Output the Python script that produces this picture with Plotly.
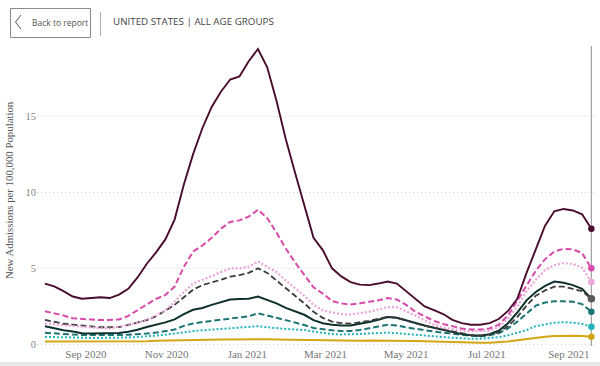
import pandas as pd
import plotly.graph_objects as go

# ---- data (weekly) ----
dates = pd.date_range("2020-08-01", periods=60, freq="7D")

maroon = [4.0, 3.82, 3.5, 3.15, 3.0, 3.05, 3.1, 3.05, 3.27, 3.65,
          4.4, 5.3, 6.05, 6.9, 8.2, 10.5, 12.5, 14.2, 15.6, 16.6,
          17.4, 17.6, 18.6, 19.4, 18.2, 16.0, 13.5, 11.3, 9.2, 7.0,
          6.2, 5.0, 4.47, 4.1, 3.93, 3.9, 4.0, 4.13, 4.0, 3.5,
          2.95, 2.5, 2.25, 2.0, 1.62, 1.4, 1.3, 1.3, 1.4, 1.67,
          2.2, 3.0, 4.7, 6.3, 7.8, 8.75, 8.9, 8.8, 8.55, 7.6]
magenta = [2.18, 2.05, 1.9, 1.72, 1.66, 1.64, 1.6, 1.6, 1.64, 1.88,
           2.25, 2.65, 3.0, 3.25, 3.8, 5.1, 6.1, 6.5, 7.0, 7.6,
           8.05, 8.15, 8.4, 8.85, 8.3, 7.35, 6.3, 5.4, 4.6, 3.75,
           3.35, 2.85, 2.7, 2.62, 2.7, 2.78, 2.9, 3.05, 2.95, 2.6,
           2.15, 1.85, 1.55, 1.35, 1.2, 1.05, 0.98, 0.98, 1.05, 1.3,
           1.9, 2.9, 3.9, 4.85, 5.6, 6.1, 6.28, 6.25, 6.0, 5.0]
pink = [1.37, 1.32, 1.25, 1.2, 1.14, 1.09, 1.07, 1.05, 1.15, 1.3,
        1.42, 1.62, 1.9, 2.25, 2.8, 3.45, 4.0, 4.25, 4.45, 4.7,
        5.0, 5.0, 5.1, 5.45, 5.1, 4.75, 4.2, 3.7, 3.2, 2.6,
        2.25, 2.1, 2.0, 1.97, 2.05, 2.15, 2.3, 2.45, 2.45, 2.2,
        1.9, 1.58, 1.3, 1.1, 1.0, 0.92, 0.87, 0.87, 0.9, 1.15,
        1.7, 2.5, 3.5, 4.25, 4.9, 5.2, 5.35, 5.28, 5.05, 4.1]
gray = [1.62, 1.48, 1.36, 1.3, 1.24, 1.18, 1.13, 1.13, 1.14, 1.28,
        1.45, 1.6, 1.85, 2.2, 2.6, 3.1, 3.6, 3.9, 4.05, 4.25,
        4.45, 4.55, 4.7, 5.0, 4.7, 4.2, 3.75, 3.2, 2.7, 2.15,
        1.75, 1.5, 1.4, 1.37, 1.45, 1.55, 1.68, 1.82, 1.75, 1.6,
        1.4, 1.22, 1.1, 0.95, 0.82, 0.7, 0.62, 0.59, 0.65, 0.8,
        1.2, 1.8, 2.55, 3.2, 3.55, 3.8, 3.8, 3.65, 3.5, 3.0]
dark = [1.2, 1.05, 0.93, 0.85, 0.74, 0.72, 0.72, 0.72, 0.76, 0.84,
        0.97, 1.15, 1.28, 1.45, 1.65, 2.0, 2.28, 2.4, 2.6, 2.8,
        2.95, 2.98, 3.0, 3.15, 2.95, 2.7, 2.4, 2.15, 1.95, 1.6,
        1.4, 1.3, 1.25, 1.25, 1.35, 1.48, 1.62, 1.8, 1.75, 1.6,
        1.42, 1.25, 1.1, 0.95, 0.8, 0.68, 0.6, 0.58, 0.68, 0.9,
        1.4, 2.1, 2.9, 3.45, 3.85, 4.13, 4.05, 3.9, 3.65, 3.0]
teal = [0.77, 0.72, 0.68, 0.65, 0.63, 0.62, 0.61, 0.61, 0.62, 0.64,
        0.66, 0.72, 0.78, 0.86, 0.98, 1.22, 1.38, 1.47, 1.55, 1.63,
        1.73, 1.8, 1.85, 2.05, 1.88, 1.75, 1.6, 1.45, 1.28, 1.08,
        1.0, 0.93, 0.89, 0.88, 0.95, 1.05, 1.18, 1.3, 1.25, 1.12,
        1.02, 0.92, 0.85, 0.78, 0.7, 0.63, 0.57, 0.54, 0.6, 0.74,
        1.05, 1.5, 2.05, 2.55, 2.75, 2.84, 2.84, 2.8, 2.65, 2.15]
cyan = [0.5, 0.48, 0.46, 0.45, 0.44, 0.43, 0.43, 0.43, 0.44, 0.46,
        0.5, 0.53, 0.58, 0.64, 0.72, 0.82, 0.88, 0.93, 0.97, 1.0,
        1.04, 1.08, 1.12, 1.2, 1.13, 1.06, 1.02, 0.98, 0.95, 0.85,
        0.75, 0.68, 0.66, 0.66, 0.69, 0.72, 0.75, 0.78, 0.74, 0.68,
        0.62, 0.58, 0.54, 0.49, 0.44, 0.4, 0.37, 0.38, 0.42, 0.48,
        0.6, 0.75, 0.95, 1.2, 1.32, 1.43, 1.46, 1.43, 1.35, 1.16]
gold = [0.2, 0.2, 0.19, 0.19, 0.18, 0.18, 0.18, 0.18, 0.19, 0.2,
        0.21, 0.22, 0.24, 0.26, 0.28, 0.3, 0.31, 0.31, 0.32, 0.33,
        0.33, 0.34, 0.34, 0.35, 0.34, 0.33, 0.32, 0.3, 0.28, 0.27,
        0.26, 0.25, 0.25, 0.25, 0.25, 0.26, 0.26, 0.27, 0.26, 0.25,
        0.23, 0.21, 0.19, 0.16, 0.14, 0.12, 0.11, 0.11, 0.12, 0.15,
        0.2, 0.28, 0.36, 0.44, 0.5, 0.55, 0.58, 0.58, 0.56, 0.5]

title_text = "UNITED STATES | ALL AGE GROUPS"
back_text = "Back to report"
y_title = "New Admissions per 100,000 Population"
y_ticks = [0, 5, 10, 15]

# ---- styles ----
series = [
    ("gold", gold, "#d4a514", "solid", 2.0),
    ("cyan", cyan, "#22b3bb", "2px,2px", 2.0),
    ("teal", teal, "#1c7474", "6px,3px", 2.0),
    ("dark", dark, "#0d302e", "solid", 2.0),
    ("gray", gray, "#3c3c3c", "6px,3px", 1.8),
    ("pink", pink, "#eba3d8", "2px,2px", 2.2),
    ("magenta", magenta, "#d84aa9", "6px,3px", 2.0),
    ("maroon", maroon, "#4a0c2e", "solid", 1.9),
]
marker_colors = {"gray": "#5a5a5a"}

W, H = 600, 366
L, R, T, B = 37, 4, 46, 20
PW, PH = W - L - R, H - T - B


def px(x):
    return (x - L) / PW


def py(y):
    return (H - B - y) / PH


fig = go.Figure()
for name, vals, col, dash, wid in series:
    fig.add_trace(go.Scatter(
        x=dates, y=vals, mode="lines", name=name,
        line=dict(color=col, width=wid, dash=dash),
        hoverinfo="skip", showlegend=False))
    mc = marker_colors.get(name, col)
    fig.add_trace(go.Scatter(
        x=[dates[-1]], y=[vals[-1]], mode="markers",
        marker=dict(color=mc, size=6.5 if name != "gray" else 7.5),
        hoverinfo="skip", showlegend=False))

shapes = [
    # end line
    dict(type="line", xref="x", yref="paper", x0=dates[-1], x1=dates[-1],
         y0=0, y1=1, line=dict(color="#a0a0a0", width=1.2), layer="below"),
    # back button box
    dict(type="rect", xref="paper", yref="paper", x0=px(10.5), x1=px(90.5),
         y0=py(37.5), y1=py(8.5), line=dict(color="#8a8a8a", width=1)),
    # chevron
    dict(type="path", xref="paper", yref="paper",
         path=f"M {px(21)},{py(15)} L {px(15.5)},{py(22)} L {px(21)},{py(29)}",
         line=dict(color="#555555", width=1)),
    # separator
    dict(type="line", xref="paper", yref="paper", x0=px(100.5), x1=px(100.5),
         y0=py(36), y1=py(12), line=dict(color="#b0b0b0", width=1)),
    # bottom strip
    dict(type="rect", xref="paper", yref="paper", x0=px(0), x1=px(600),
         y0=py(367), y1=py(362), line=dict(width=0), fillcolor="#e9e9e9"),
]

annotations = [
    dict(text=back_text, xref="paper", yref="paper", x=px(30), y=py(22.5),
         xanchor="left", yanchor="middle", showarrow=False,
         font=dict(family="Open Sans", size=8.5, color="#555555")),
    dict(text=title_text, xref="paper", yref="paper", x=px(111), y=py(22),
         xanchor="left", yanchor="middle", showarrow=False,
         font=dict(family="Open Sans", size=9.8, color="#444444")),
    dict(text=y_title, xref="paper", yref="paper", x=px(9), y=py(190),
         xanchor="center", yanchor="middle", showarrow=False, textangle=-90,
         font=dict(family="Liberation Serif", size=10.8, color="#555555")),
]

fig.update_layout(
    width=W, height=H,
    margin=dict(l=L, r=R, t=T, b=B),
    paper_bgcolor="white", plot_bgcolor="white",
    shapes=shapes, annotations=annotations,
    showlegend=False,
)
fig.update_xaxes(
    range=["2020-07-26", "2021-09-21 12:00"],
    dtick="M2", tick0="2020-09-01", tickformat="%b %Y",
    showgrid=False, zeroline=False, showline=False, ticks="",
    tickfont=dict(family="Liberation Serif", size=11, color="#777777"),
)
fig.update_yaxes(
    range=[-0.1, 19.6], tickvals=y_ticks,
    showgrid=True, gridcolor="#d4d4d4", griddash="1px,3px", gridwidth=1,
    zeroline=False, showline=False, ticks="",
    tickfont=dict(family="Liberation Serif", size=10.5, color="#888888"),
)

fig.write_html(
    "out.html",
    config={"displayModeBar": False},
    post_script="document.body.style.margin='0';document.body.style.overflow='hidden';",
)
